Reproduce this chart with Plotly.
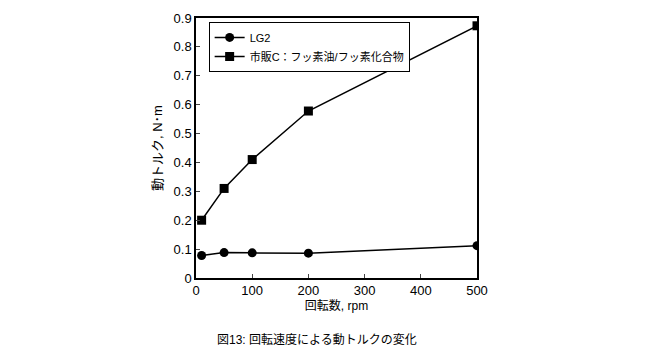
import plotly.graph_objects as go

rpm = [10, 50, 100, 200, 500]
lg2 = [0.078, 0.088, 0.087, 0.086, 0.112]
commercial_c = [0.20, 0.31, 0.41, 0.578, 0.873]
series_names = ["LG2", "市販C：フッ素油/フッ素化合物"]
x_ticks = [0, 100, 200, 300, 400, 500]
y_ticks = [0, 0.1, 0.2, 0.3, 0.4, 0.5, 0.6, 0.7, 0.8, 0.9]

FONT = "Liberation Sans, Noto Sans CJK JP, sans-serif"

fig = go.Figure()
fig.add_trace(go.Scatter(x=rpm, y=lg2, mode="lines+markers", name=series_names[0],
                         line=dict(color="black", width=1.5),
                         marker=dict(symbol="circle", size=9, color="black")))
fig.add_trace(go.Scatter(x=rpm, y=commercial_c, mode="lines+markers", name=series_names[1],
                         line=dict(color="black", width=1.5),
                         marker=dict(symbol="square", size=9, color="black")))

fig.update_layout(
    width=645, height=351,
    margin=dict(l=196, r=168, t=18, b=73),
    paper_bgcolor="white", plot_bgcolor="white",
    font=dict(family=FONT, size=13, color="black"),
    showlegend=True,
    legend=dict(x=0.045, y=0.985, xanchor="left", yanchor="top",
                bordercolor="black", borderwidth=1, bgcolor="white",
                font=dict(size=11), tracegroupgap=0, itemwidth=30),
    xaxis=dict(range=[0, 500], tickvals=x_ticks, ticks="inside", ticklen=4,
               showline=True, linecolor="black", linewidth=1.5, mirror=True,
               showgrid=False, zeroline=False,
               title=dict(text="回転数, rpm", font=dict(size=12), standoff=4)),
    yaxis=dict(range=[0, 0.9], tickvals=y_ticks, ticks="inside", ticklen=4,
               showline=True, linecolor="black", linewidth=1.5, mirror=True,
               showgrid=False, zeroline=False,
               title=dict(text="動トルク, N･m", font=dict(size=13), standoff=8)),
    annotations=[dict(text="図13: 回転速度による動トルクの変化", xref="paper", yref="paper",
                      x=0.43, y=-0.2, xanchor="center", yanchor="top", showarrow=False,
                      font=dict(size=12))],
)

fig.write_html("out.html")
